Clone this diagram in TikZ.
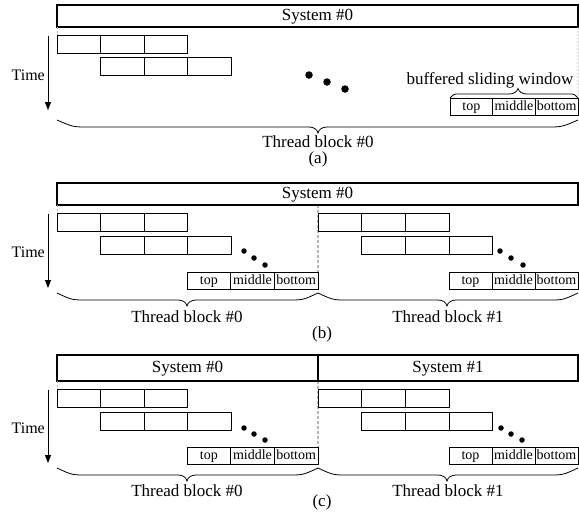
\documentclass[tikz,border=0pt]{standalone}
\usepackage{fontspec}
\setmainfont{Liberation Serif}
\usetikzlibrary{arrows.meta}
\newcommand\cellrow[4]{\foreach \i in {0,1,2}{\node[cell, minimum width=#3pt] (#1\i) at ({#2+\i*#3},#4) {};}}
\newcommand\slidewin[4]{%
 \node[wcell, minimum width=#3pt] (#1t) at (#2,#4) {top};
 \node[wcell, minimum width=#3pt] (#1m) at ({#2+#3},#4) {middle};
 \node[wcell, minimum width=#3pt] (#1b) at ({#2+2*#3},#4) {bottom};}
\newcommand\bracepath[7]{%
 \draw[bracestyle] (#1,#4) .. controls ({#1+#7/2},#5) .. ({#1+#7},#5) -- ({#3-9},#5)
   .. controls ({#3-4},#5) and ({#3-1},{#5+0.4*(#6-#5)}) .. (#3,#6)
   .. controls ({#3+1},{#5+0.4*(#6-#5)}) and ({#3+4},#5) .. ({#3+9},#5)
   -- ({#2-#7},#5) .. controls ({#2-#7/2},#5) .. (#2,#4);}
\begin{document}
\begin{tikzpicture}[x=1pt,y=-1pt,
  cell/.style={draw, line width=0.9pt, minimum height=18pt, inner sep=0pt, outer sep=0pt, anchor=north west},
  wcell/.style={cell, minimum height=17pt, text height=10.5pt, text depth=2.5pt, font=\fontsize{14}{16}\selectfont},
  sysbox/.style={draw, line width=1.2pt, inner sep=0pt, outer sep=0pt, anchor=north west, text height=12pt, text depth=3.5pt, font=\fontsize{17}{20}\selectfont},
  lbl/.style={font=\fontsize{17}{20}\selectfont, inner sep=0pt},
  timelbl/.style={font=\fontsize{16}{18}\selectfont, inner sep=0pt, anchor=east},
  timearrow/.style={line width=0.8pt, -{Triangle[width=6pt,length=8pt]}},
  bracestyle/.style={line width=0.8pt},
  dotb/.style={circle, fill=black, inner sep=0pt},
  guide/.style={gray!60, dash pattern=on 2pt off 1.5pt, line width=0.6pt},
  split/.style={black!80, dash pattern=on 3pt off 2pt, line width=0.7pt}
]
\useasboundingbox (0,0) rectangle (579,512);

% ---------------- (a) ----------------
\node[sysbox, minimum width=521pt, minimum height=22pt] (sysA) at (57,5) {System \#0};
\cellrow{aa}{57}{43.5}{35}
\cellrow{ab}{100.5}{43.5}{57}
\slidewin{aw}{450}{42.67}{98}
\coordinate (taA) at (48,36);
\coordinate (tbA) at (48,110);
\draw[timearrow] (taA) -- (tbA);
\node[timelbl] (timeA) at (45,75) {Time};
\node[dotb, minimum size=7.5pt] (adot1) at (309,75) {};
\node[dotb, minimum size=7.5pt] (adot2) at (327,82) {};
\node[dotb, minimum size=7.5pt] (adot3) at (345,89) {};
\node[lbl] (bsw) at (490,80) {buffered sliding window};
\bracepath{450}{578}{518}{98}{94}{88.5}{8}
\draw[guide] (sysA.south west) -- (aa0.north west);
\draw[guide] (sysA.south east) -- (awb.north east);
\bracepath{57}{578}{318}{120}{127}{133}{32}
\node[lbl] (tbA0) at (318,141.5) {Thread block \#0};
\node[lbl] (capA) at (318,159.5) {(a)};

% ---------------- (b) ----------------
\node[sysbox, minimum width=521pt, minimum height=22pt] (sysB) at (57,183) {System \#0};
\cellrow{ba}{57}{43.5}{213}
\cellrow{bb}{100.5}{43.5}{236}
\slidewin{bwl}{187}{43.67}{272}
\cellrow{bc}{318}{43.67}{213}
\cellrow{bd}{361.67}{43.67}{236}
\slidewin{bwr}{449}{43}{272}
\coordinate (taB) at (48,214);
\coordinate (tbB) at (48,288);
\draw[timearrow] (taB) -- (tbB);
\node[timelbl] (timeB) at (45,252) {Time};
\node[dotb, minimum size=5.5pt] (bdot1) at (244,251) {};
\node[dotb, minimum size=5.5pt] (bdot2) at (254,258) {};
\node[dotb, minimum size=5.5pt] (bdot3) at (265,265) {};
\node[dotb, minimum size=5.5pt] (bdot4) at (500,251) {};
\node[dotb, minimum size=5.5pt] (bdot5) at (511,258) {};
\node[dotb, minimum size=5.5pt] (bdot6) at (523,265) {};
\draw[guide] (sysB.south west) -- (ba0.north west);
\draw[split] (bc0.north west) ++(0,-8) coordinate (splB) -- (bwlb.north east);
\bracepath{57}{318}{187}{293}{300}{306}{30}
\bracepath{318}{578}{447}{293}{300}{306}{30}
\node[lbl] (tbB0) at (187,317) {Thread block \#0};
\node[lbl] (tbB1) at (448,317) {Thread block \#1};
\node[lbl] (capB) at (322,334) {(b)};

% ---------------- (c) ----------------
\node[sysbox, minimum width=261pt, minimum height=26pt] (sysC0) at (57,355) {System \#0};
\node[sysbox, minimum width=260pt, minimum height=26pt] (sysC1) at (318,355) {System \#1};
\cellrow{ca}{57}{43.5}{389}
\cellrow{cb}{100.5}{43.5}{412}
\slidewin{cwl}{187}{43.67}{447}
\cellrow{cc}{318}{43.67}{389}
\cellrow{cd}{361.67}{43.67}{412}
\slidewin{cwr}{449}{43}{447}
\coordinate (taC) at (48,390);
\coordinate (tbC) at (48,463);
\draw[timearrow] (taC) -- (tbC);
\node[timelbl] (timeC) at (45,428) {Time};
\node[dotb, minimum size=5.5pt] (cdot1) at (244,428) {};
\node[dotb, minimum size=5.5pt] (cdot2) at (254,434) {};
\node[dotb, minimum size=5.5pt] (cdot3) at (265,440) {};
\node[dotb, minimum size=5.5pt] (cdot4) at (501,428) {};
\node[dotb, minimum size=5.5pt] (cdot5) at (511,434) {};
\node[dotb, minimum size=5.5pt] (cdot6) at (522,440) {};
\draw[guide] (sysC0.south west) -- (ca0.north west);
\draw[split] (sysC1.south west) -- (cwlb.north east);
\bracepath{57}{318}{187}{468}{475}{481}{30}
\bracepath{318}{578}{447}{468}{475}{481}{30}
\node[lbl] (tbC0) at (187,491) {Thread block \#0};
\node[lbl] (tbC1) at (448,491) {Thread block \#1};
\node[lbl] (capC) at (322,502) {(c)};
\end{tikzpicture}
\end{document}
